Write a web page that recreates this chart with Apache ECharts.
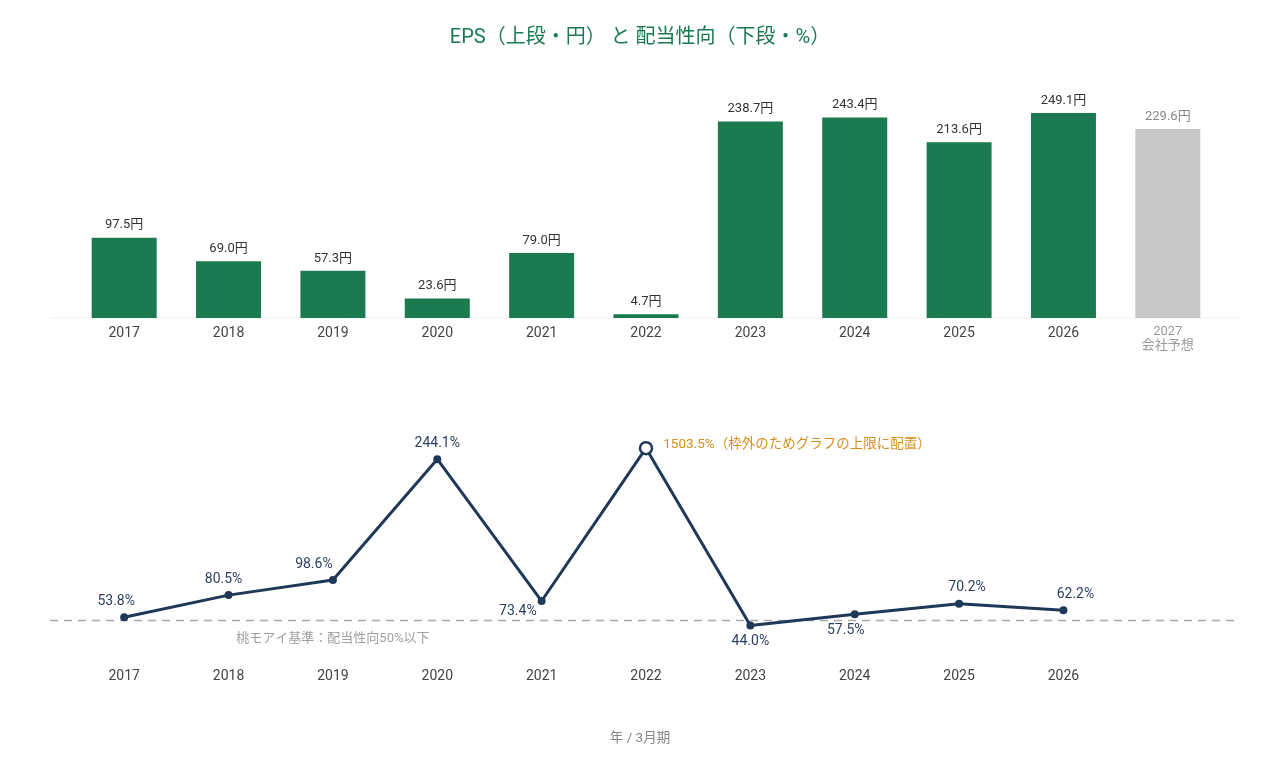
<!DOCTYPE html>
<html>
<head>
<meta charset="utf-8">
<script src="https://cdn.jsdelivr.net/npm/echarts@6/dist/echarts.min.js"></script>
<style>
  html, body { margin: 0; padding: 0; background: #fff; }
  #chart { width: 1280px; height: 760px; }
</style>
</head>
<body>
<div id="chart"></div>
<script>
const years = ['2017', '2018', '2019', '2020', '2021', '2022', '2023', '2024', '2025', '2026', '2027'];
const eps = [97.5, 69.0, 57.3, 23.6, 79.0, 4.7, 238.7, 243.4, 213.6, 249.1, 229.6];
const payout = [53.8, 80.5, 98.6, 244.1, 73.4, 1503.5, 44.0, 57.5, 70.2, 62.2, null];
const payoutCap = 257.4; // values above this are drawn at the top of the chart
const moaiLine = 50;

const FONT = 'Roboto, "Noto Sans CJK JP", sans-serif';
const GREEN = '#1b7a50';
const NAVY = '#1f3858';

// label offsets so the line labels don't collide with the line
const labelPos = ['top', 'top', 'top', 'top', 'left', 'right', 'bottom', 'bottom', 'top', 'top'];
const labelOffset = [[-8, 0], [-5, 0], [-19, 0], [0, 0], [4, 10], [0, 0], [0, 0], [-9, 0], [8, 0], [12, 0]];

const drawChart = (dom) => {
  const chart = echarts.init(dom);

  const barData = eps.map((v, i) => {
    const forecast = i === eps.length - 1;
    return {
      value: v,
      itemStyle: { color: forecast ? '#c8c8c8' : GREEN },
      label: { color: forecast ? '#8a8a8a' : '#333' },
    };
  });

  const lineData = payout.map((v, i) => {
    if (v == null) return null;
    const over = v > payoutCap;
    return {
      value: over ? payoutCap : v,
      raw: v,
      symbol: 'circle',
      symbolSize: over ? 12 : 8,
      itemStyle: over
        ? { color: '#fff', borderColor: NAVY, borderWidth: 2.5 }
        : { color: NAVY },
      label: over
        ? {
            position: 'right',
            distance: 10,
            offset: [0, -4],
            color: '#d4901e',
            fontSize: 13.5,
            formatter: (p) => p.data.raw.toFixed(1) + '%（枠外のためグラフの上限に配置）',
          }
        : { position: labelPos[i], offset: labelOffset[i] },
    };
  });

  const option = {
    animation: false,
    textStyle: { fontFamily: FONT },
    title: [
      {
        text: 'EPS（上段・円） と 配当性向（下段・%）',
        left: 'center',
        top: 23,
        textStyle: { color: GREEN, fontSize: 20, fontWeight: 'normal', fontFamily: FONT },
      },
      {
        text: '年 / 3月期',
        left: 'center',
        top: 727,
        textStyle: { color: '#888', fontSize: 13.5, fontWeight: 'normal', fontFamily: FONT },
      },
    ],
    grid: [
      { left: 72, right: 60, top: 71, height: 247 },
      { left: 72, right: 60, top: 446, height: 216 },
    ],
    xAxis: [
      {
        gridIndex: 0,
        type: 'category',
        data: years,
        axisLine: { show: false },
        axisTick: { show: false },
        axisLabel: {
          margin: 7,
          fontSize: 14,
          color: '#444',
          lineHeight: 16,
          formatter: (v) => (v === '2027' ? '{f|2027}\n{f|会社予想}' : v),
          rich: { f: { color: '#999', fontSize: 13, lineHeight: 14 } },
        },
      },
      {
        gridIndex: 1,
        type: 'category',
        data: years.map((y, i) => (payout[i] == null ? '' : y)),
        axisLine: { show: false },
        axisTick: { show: false },
        axisLabel: { margin: 7, fontSize: 14, color: '#444' },
      },
    ],
    yAxis: [
      { gridIndex: 0, type: 'value', min: 0, max: 300, show: false },
      { gridIndex: 1, type: 'value', min: 0, max: 260, show: false },
    ],
    series: [
      {
        type: 'bar',
        xAxisIndex: 0,
        yAxisIndex: 0,
        barWidth: 65,
        data: barData,
        label: {
          show: true,
          position: 'top',
          distance: 6,
          fontSize: 13,
          formatter: (p) => p.value.toFixed(1) + '円',
        },
      },
      {
        type: 'line',
        xAxisIndex: 1,
        yAxisIndex: 1,
        data: lineData,
        lineStyle: { color: NAVY, width: 3 },
        label: {
          show: true,
          fontSize: 14,
          color: '#2b3f5f',
          distance: 5,
          formatter: (p) => p.data.raw.toFixed(1) + '%',
        },
        markPoint: {
          symbol: 'circle',
          symbolSize: 0,
          silent: true,
          data: [{ coord: ['2019', moaiLine], value: moaiLine }],
          label: {
            show: true,
            position: 'bottom',
            distance: 12,
            color: '#a0a0a0',
            fontSize: 13,
            formatter: '桃モアイ基準：配当性向50%以下',
          },
        },
        z: 3,
      },
    ],
  };
  chart.setOption(option);

  // baselines stretching slightly past the category bands
  const yBase = chart.convertToPixel({ yAxisIndex: 0 }, 0);
  const yMoai = chart.convertToPixel({ yAxisIndex: 1 }, moaiLine);
  chart.setOption({
    graphic: [
      {
        type: 'line',
        shape: { x1: 50, y1: yBase, x2: 1240, y2: yBase },
        style: { stroke: '#eeeeee', lineWidth: 1 },
        z: 0,
      },
      {
        type: 'line',
        shape: { x1: 50, y1: yMoai, x2: 1240, y2: yMoai },
        style: { stroke: '#a8a8a8', lineWidth: 1.5, lineDash: [8, 6] },
        z: 0,
      },
    ],
  });
};

drawChart(document.querySelector('#chart'));
</script>
</body>
</html>
